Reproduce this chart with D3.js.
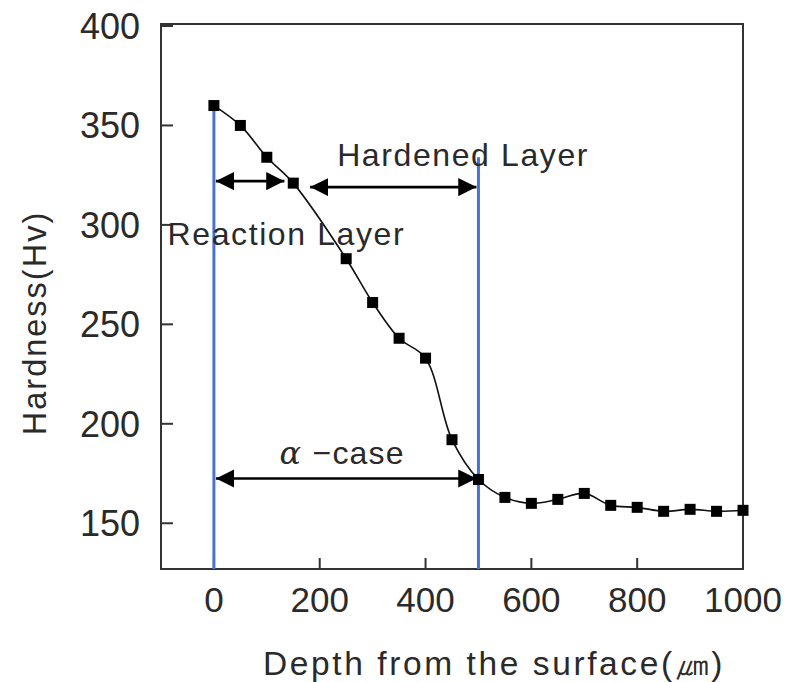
<!DOCTYPE html>
<html>
<head>
<meta charset="utf-8">
<script src="https://cdn.jsdelivr.net/npm/d3@7"></script>
<style>
  body { margin: 0; background: #fff; }
  text { font-family: "Liberation Sans", Arial, sans-serif; fill: #2a2a2a; }
</style>
</head>
<body>
<script>
// measured hardness profile
var depth    = [0, 50, 100, 150, 250, 300, 350, 400, 450, 500, 550, 600, 650, 700, 750, 800, 850, 900, 950, 1000];
var hardness = [360, 350, 334, 321, 283, 261, 243, 233, 192, 172, 163, 160, 162, 165, 159, 158, 156, 157, 156, 156.5];

var xTicks = [0, 200, 400, 600, 800, 1000];
var yTicks = [150, 200, 250, 300, 350, 400];

// layer boundaries and arrows
var boundaries = [{ x: 0, top: 360 }, { x: 500, top: 334 }];
var arrows = [
  { x0: 0, x1: 137, y: 322 },
  { x0: 178, x1: 500, y: 319 },
  { x0: 0, x1: 500, y: 172.5 }
];
var labels = [
  { text: "Hardened Layer", x: 471, y: 329.6 },
  { text: "Reaction Layer", x: 137, y: 290 }
];

var width = 788,
    height = 682;

var x = d3.scaleLinear().domain([-100, 1000]).range([161, 743]);
var y = d3.scaleLinear().domain([127, 401]).range([569, 24]);

var svg = d3.select("body").append("svg")
    .attr("width", width)
    .attr("height", height);

var defs = svg.append("defs");
defs.append("marker")
    .attr("id", "head")
    .attr("viewBox", "0 0 10 10")
    .attr("refX", 10)
    .attr("refY", 5)
    .attr("markerWidth", 7)
    .attr("markerHeight", 7)
    .attr("markerUnits", "strokeWidth")
    .attr("orient", "auto-start-reverse")
  .append("path")
    .attr("d", "M0,0L10,5L0,10z")
    .attr("fill", "#000");

// frame
svg.append("rect")
    .attr("x", x(-100))
    .attr("y", y(401))
    .attr("width", x(1000) - x(-100))
    .attr("height", y(127) - y(401))
    .attr("fill", "none")
    .attr("stroke", "#333")
    .attr("stroke-width", 2);

// ticks (inward)
svg.selectAll(".xt")
    .data(xTicks)
    .enter().append("line")
    .attr("x1", function(d) { return x(d); })
    .attr("x2", function(d) { return x(d); })
    .attr("y1", y(127))
    .attr("y2", y(127) - 11)
    .attr("stroke", "#333")
    .attr("stroke-width", 2);

svg.selectAll(".yt")
    .data(yTicks)
    .enter().append("line")
    .attr("x1", x(-100))
    .attr("x2", x(-100) + 12)
    .attr("y1", function(d) { return y(d); })
    .attr("y2", function(d) { return y(d); })
    .attr("stroke", "#333")
    .attr("stroke-width", 2);

svg.selectAll(".xl")
    .data(xTicks)
    .enter().append("text")
    .attr("x", function(d) { return x(d); })
    .attr("y", 612)
    .attr("text-anchor", "middle")
    .attr("font-size", 35)
    .text(function(d) { return d; });

svg.selectAll(".yl")
    .data(yTicks)
    .enter().append("text")
    .attr("x", 140)
    .attr("y", function(d) { return y(d) + 13; })
    .attr("text-anchor", "end")
    .attr("font-size", 36)
    .text(function(d) { return d; });

svg.append("text")
    .attr("transform", "translate(46,323)rotate(-90)")
    .attr("text-anchor", "middle")
    .attr("font-size", 32.5)
    .attr("letter-spacing", 2)
    .text("Hardness(Hv)");

svg.append("text")
    .attr("x", 494)
    .attr("y", 675)
    .attr("text-anchor", "middle")
    .attr("font-size", 33.5)
    .attr("letter-spacing", 2.6)
    .text("Depth from the surface(㎛)");

// boundary lines
svg.selectAll(".bd")
    .data(boundaries)
    .enter().append("line")
    .attr("x1", function(d) { return x(d.x); })
    .attr("x2", function(d) { return x(d.x); })
    .attr("y1", function(d) { return y(d.top); })
    .attr("y2", y(127))
    .attr("stroke", "#4a72d4")
    .attr("stroke-width", 3);

// data curve
var pts = depth.map(function(d, i) { return [d, hardness[i]]; });
svg.append("path")
    .datum(pts)
    .attr("fill", "none")
    .attr("stroke", "#111")
    .attr("stroke-width", 1.6)
    .attr("d", d3.line()
        .curve(d3.curveCatmullRom.alpha(0.5))
        .x(function(d) { return x(d[0]); })
        .y(function(d) { return y(d[1]); }));

svg.selectAll(".pt")
    .data(pts)
    .enter().append("rect")
    .attr("x", function(d) { return x(d[0]) - 5.5; })
    .attr("y", function(d) { return y(d[1]) - 5.5; })
    .attr("width", 11)
    .attr("height", 11)
    .attr("fill", "#000");

// arrows
svg.selectAll(".ar")
    .data(arrows)
    .enter().append("line")
    .attr("x1", function(d) { return x(d.x0) + 2; })
    .attr("x2", function(d) { return x(d.x1) - 2; })
    .attr("y1", function(d) { return y(d.y); })
    .attr("y2", function(d) { return y(d.y); })
    .attr("stroke", "#000")
    .attr("stroke-width", 2.6)
    .attr("marker-start", "url(#head)")
    .attr("marker-end", "url(#head)");

svg.selectAll(".lb")
    .data(labels)
    .enter().append("text")
    .attr("x", function(d) { return x(d.x); })
    .attr("y", function(d) { return y(d.y); })
    .attr("text-anchor", "middle")
    .attr("font-size", 32)
    .attr("letter-spacing", 1.6)
    .text(function(d) { return d.text; });

var ac = svg.append("text")
    .attr("x", x(242.5))
    .attr("y", y(180))
    .attr("text-anchor", "middle")
    .attr("font-size", 32)
    .attr("letter-spacing", 1.2);
ac.append("tspan")
    .attr("font-style", "italic")
    .attr("font-family", "DejaVu Serif, serif")
    .text("α");
ac.append("tspan").text(" −case");
</script>
</body>
</html>
